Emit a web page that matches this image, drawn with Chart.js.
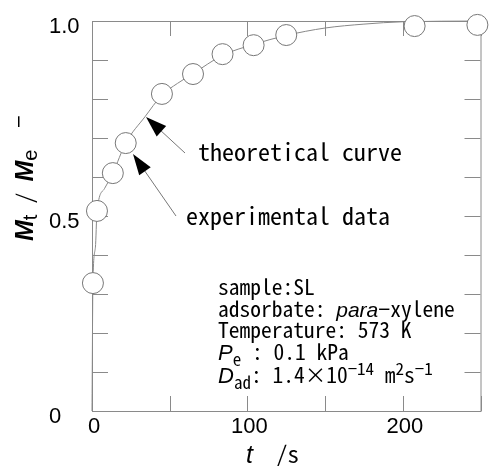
<!DOCTYPE html>
<html>
<head>
<meta charset="utf-8">
<script src="https://cdn.jsdelivr.net/npm/chart.js@4/dist/chart.umd.min.js"></script>
<style>
  html, body { margin: 0; padding: 0; background: #fff; }
  #wrap { width: 492px; height: 466px; }
</style>
</head>
<body>
<div id="wrap"><canvas id="chart" width="492" height="466"></canvas></div>
<script>
// measured uptake (circles)
const timeS = [0.6, 3.2, 13.4, 21.7, 45, 65, 84, 104, 125, 207.6, 248];
const uptake = [0.328, 0.513, 0.61, 0.687, 0.813, 0.864, 0.915, 0.938, 0.964, 0.987, 0.99];

// theoretical curve
const curveT = [0, 0.6, 2.2, 3.2, 8, 13.4, 21.7, 34, 45, 55, 65, 84, 104, 125, 150, 175, 200, 250];
const curveY = [0, 0.33, 0.42, 0.51, 0.57, 0.61, 0.687, 0.754, 0.81, 0.84, 0.865, 0.912, 0.94, 0.963, 0.982, 0.992, 0.998, 1.0];

const xTicks = [0, 50, 100, 150, 200, 250];
const xLabels = [0, 100, 200];
const yTicks = [0, 0.1, 0.2, 0.3, 0.4, 0.5, 0.6, 0.7, 0.8, 0.9, 1.0];
const yLabels = ['0', '0.5', '1.0'];

const MONO = "'Noto Sans Mono CJK JP', 'DejaVu Sans Mono', monospace";
const SANS = "'Liberation Sans', Arial, sans-serif";
const FRAME = '#8a8a8a';

// draws runs of text one after another; each run {t, f, dy}
function runs(ctx, x, y, parts) {
  parts.forEach(p => {
    ctx.font = p.f;
    ctx.fillText(p.t, x, y + (p.dy || 0));
    x += ctx.measureText(p.t).width;
  });
}

function arrow(ctx, x0, y0, x1, y1) {
  const a = Math.atan2(y1 - y0, x1 - x0);
  const len = 21, hw = 7;
  ctx.strokeStyle = '#777';
  ctx.lineWidth = 1;
  ctx.beginPath();
  ctx.moveTo(x0, y0);
  ctx.lineTo(x1 - Math.cos(a) * len * 0.6, y1 - Math.sin(a) * len * 0.6);
  ctx.stroke();
  const bx = x1 - Math.cos(a) * len, by = y1 - Math.sin(a) * len;
  ctx.fillStyle = '#000';
  ctx.beginPath();
  ctx.moveTo(x1, y1);
  ctx.lineTo(bx + Math.sin(a) * hw, by - Math.cos(a) * hw);
  ctx.lineTo(bx - Math.sin(a) * hw, by + Math.cos(a) * hw);
  ctx.closePath();
  ctx.fill();
}

const frame = {
  id: 'frame',
  beforeDatasetsDraw(chart) {
    const { ctx, chartArea: { left, right, top, bottom }, scales: { x, y } } = chart;
    ctx.save();
    ctx.strokeStyle = FRAME;
    ctx.lineWidth = 1;
    ctx.strokeRect(left + 0.5, top + 0.5, right - left, bottom - top);
    ctx.beginPath();
    yTicks.forEach(v => {
      const py = Math.round(y.getPixelForValue(v)) + 0.5;
      ctx.moveTo(left, py); ctx.lineTo(left + 16, py);
      ctx.moveTo(right, py); ctx.lineTo(right - 16, py);
    });
    xTicks.forEach(v => {
      const px = Math.round(x.getPixelForValue(v)) + 0.5;
      ctx.moveTo(px, top); ctx.lineTo(px, top + 15);
      ctx.moveTo(px, bottom); ctx.lineTo(px, bottom - 15);
    });
    ctx.stroke();
    ctx.restore();
  },
  afterDraw(chart) {
    const { ctx, scales: { x, y } } = chart;
    ctx.save();
    ctx.fillStyle = '#000';
    ctx.textBaseline = 'alphabetic';

    // tick labels
    ctx.font = '22px ' + SANS;
    ctx.textAlign = 'left';
    yLabels.forEach(l => ctx.fillText(l, 49, y.getPixelForValue(parseFloat(l)) + 12));
    ctx.textAlign = 'center';
    xLabels.forEach(v => ctx.fillText(String(v), x.getPixelForValue(v) + 2, 433));
    ctx.textAlign = 'left';

    // x title
    runs(ctx, 246, 463, [
      { t: 't', f: 'italic 25px ' + SANS },
      { t: '  /s', f: '23px ' + MONO },
    ]);

    // y title
    ctx.save();
    ctx.translate(33, 241);
    ctx.rotate(-Math.PI / 2);
    runs(ctx, 0, 0, [
      { t: 'M', f: 'bold italic 25px ' + SANS },
      { t: 't', f: '20px ' + SANS, dy: 4 },
      { t: ' / ', f: '22px ' + MONO },
      { t: 'M', f: 'bold italic 25px ' + SANS },
      { t: 'e', f: '20px ' + SANS, dy: 4 },
      { t: '  \u2212', f: '22px ' + MONO, dy: -6 },
    ]);
    ctx.restore();

    // callouts
    ctx.font = '24px ' + MONO;
    ctx.fillText('theoretical curve', 198, 161);
    ctx.fillText('experimental data', 186, 225);
    arrow(ctx, 185, 153, 146, 117);
    arrow(ctx, 176, 216, 133, 154);

    // conditions block
    const f = '21.5px ' + MONO;
    const sub = '17px ' + MONO;
    const it = 'italic 22px ' + SANS;
    const x0 = 218;
    runs(ctx, x0, 295, [{ t: 'sample:SL', f }]);
    runs(ctx, x0, 317, [
      { t: 'adsorbate: ', f },
      { t: 'para', f: 'italic 21px ' + SANS },
      { t: '\u2212xylene', f },
    ]);
    runs(ctx, x0, 338, [{ t: 'Temperature: 573 K', f }]);
    runs(ctx, x0, 360, [
      { t: 'P', f: it },
      { t: 'e', f: sub, dy: 6 },
      { t: ' : 0.1 kPa', f },
    ]);
    runs(ctx, x0, 383, [
      { t: 'D', f: it },
      { t: 'ad', f: sub, dy: 6 },
      { t: ': 1.4\u00d710', f },
      { t: '\u221214', f: sub, dy: -8 },
      { t: ' m', f },
      { t: '2', f: sub, dy: -8 },
      { t: 's', f },
      { t: '\u22121', f: sub, dy: -8 },
    ]);
    ctx.restore();
  },
};

new Chart(document.getElementById('chart'), {
  type: 'scatter',
  data: {
    datasets: [
      {
        label: 'experimental data',
        data: timeS.map((t, i) => ({ x: t, y: uptake[i] })),
        pointRadius: 10.5,
        pointBackgroundColor: '#fff',
        pointBorderColor: '#777',
        pointBorderWidth: 1,
        showLine: false,
        order: 1,
      },
      {
        label: 'theoretical curve',
        data: curveT.map((t, i) => ({ x: t, y: curveY[i] })),
        showLine: true,
        pointRadius: 0,
        borderColor: '#888',
        borderWidth: 1,
        cubicInterpolationMode: 'monotone',
        order: 2,
      },
    ],
  },
  options: {
    responsive: false,
    animation: false,
    clip: false,
    layout: { padding: { left: 92, right: 8, top: 21, bottom: 55 } },
    scales: {
      x: { type: 'linear', min: 0, max: 250, display: false },
      y: { type: 'linear', min: 0, max: 1, display: false },
    },
    plugins: {
      legend: { display: false },
      tooltip: { enabled: false },
    },
  },
  plugins: [frame],
});
</script>
</body>
</html>
